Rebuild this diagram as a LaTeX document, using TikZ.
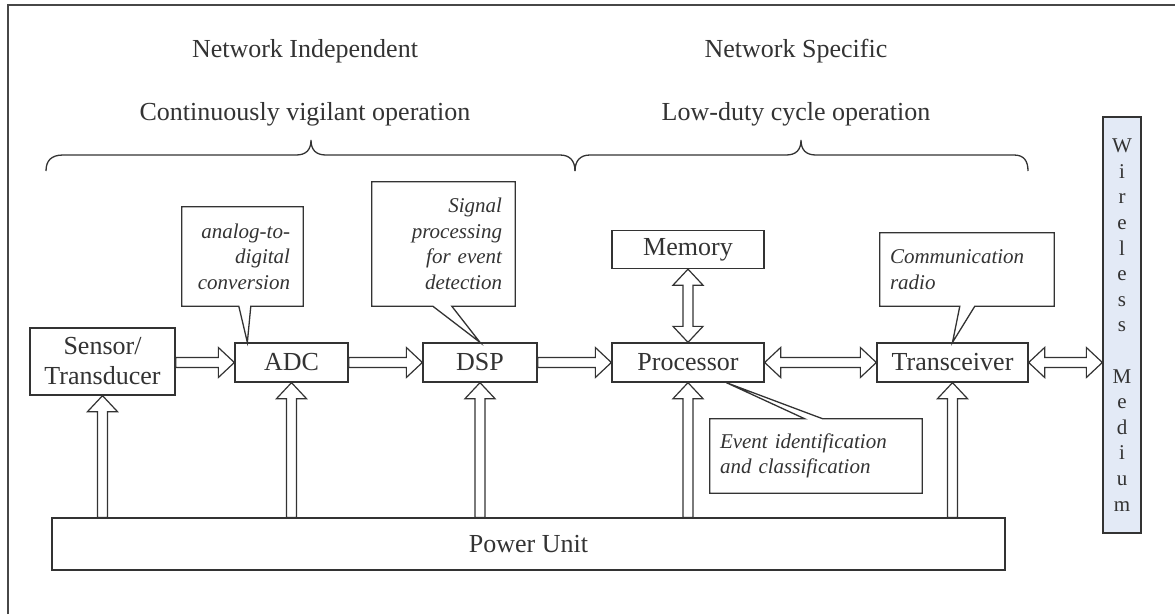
\documentclass[tikz,border=0pt]{standalone}
\usepackage{fontspec}
\setmainfont{Liberation Serif}
\usetikzlibrary{calc}
\definecolor{ln}{HTML}{333333}
\definecolor{wm}{HTML}{E3EAF6}
% block arrows between nodes
\newcommand\RArr[2]{\draw[blk] let \p1=(#1.east),\p2=(#2.west) in
  (\x1,\y2+5pt) -- (\x2-16pt,\y2+5pt) -- (\x2-16pt,\y2+15pt) -- (\x2,\y2)
  -- (\x2-16pt,\y2-15pt) -- (\x2-16pt,\y2-5pt) -- (\x1,\y2-5pt) -- cycle;}
\newcommand\DArr[2]{\draw[blk] let \p1=(#1.east),\p2=(#2.west) in
  (\x1,\y1) -- (\x1+16pt,\y1+15pt) -- (\x1+16pt,\y1+5pt) -- (\x2-16pt,\y1+5pt)
  -- (\x2-16pt,\y1+15pt) -- (\x2,\y1) -- (\x2-16pt,\y1-15pt) -- (\x2-16pt,\y1-5pt)
  -- (\x1+16pt,\y1-5pt) -- (\x1+16pt,\y1-15pt) -- cycle;}
\newcommand\UArr[2]{\draw[blk] let \p1=(#1.north),\p2=(#2.south) in
  (\x2-5pt,\y1) -- (\x2-5pt,\y2-16pt) -- (\x2-15pt,\y2-16pt) -- (\x2,\y2)
  -- (\x2+15pt,\y2-16pt) -- (\x2+5pt,\y2-16pt) -- (\x2+5pt,\y1) -- cycle;}
\newcommand\VDArr[2]{\draw[blk] let \p1=(#1.north),\p2=(#2.south) in
  (\x1,\y1) -- (\x1-15pt,\y1+16pt) -- (\x1-5pt,\y1+16pt) -- (\x1-5pt,\y2-16pt)
  -- (\x1-15pt,\y2-16pt) -- (\x1,\y2) -- (\x1+15pt,\y2-16pt) -- (\x1+5pt,\y2-16pt)
  -- (\x1+5pt,\y1+16pt) -- (\x1+15pt,\y1+16pt) -- cycle;}
\begin{document}
\begin{tikzpicture}[x=1pt,y=-1pt,
  big/.style={font=\fontsize{26}{30}\selectfont, text=ln},
  box/.style={big, draw=ln, line width=1.3pt, inner sep=0pt, align=center},
  note/.style={font=\fontsize{21}{25.5}\selectfont\itshape, text=ln, inner ysep=0pt},
  co/.style={draw=ln, line width=1.3pt, line join=miter},
  blk/.style={draw=ln, line width=1.2pt, fill=white, line join=miter},
  brc/.style={draw=ln, line width=1.3pt}]
\useasboundingbox (0,0) rectangle (1175,614);
\fill[white] (0,0) rectangle (1175,614);
% frame
\draw[draw=ln!90, line width=1.3pt] (8,614) -- (8,5) -- (1175,5);

% headings
\node[big, anchor=base] (ni) at (305,57) {Network Independent};
\node[big, anchor=base] (cv) at (305,120) {Continuously vigilant operation};
\node[big, anchor=base] (ns) at (796,57) {Network Specific};
\node[big, anchor=base] (ld) at (796,120) {Low-duty cycle operation};

% braces
\draw[brc] (46,171) .. controls (46,161) and (51,155) .. (63,155) -- (296,155)
  .. controls (306,155) and (311,150) .. (311,140)
  .. controls (311,150) and (316,155) .. (326,155) -- (560,155)
  .. controls (570,155) and (575,161) .. (575,171);
\draw[brc] (575,171) .. controls (575,161) and (580,155) .. (590,155) -- (786,155)
  .. controls (796,155) and (801,150) .. (801,140)
  .. controls (801,150) and (806,155) .. (816,155) -- (1014,155)
  .. controls (1024,155) and (1028,161) .. (1028,171);

% main blocks
\node[box, minimum width=145, minimum height=67] (sen) at (102.5,361.5) {Sensor/\\Transducer};
\node[box, minimum width=113, minimum height=39] (adc) at (291.5,362.5) {ADC};
\node[box, minimum width=114, minimum height=39] (dsp) at (480,362.5) {DSP};
\node[box, minimum width=152, minimum height=38] (mem) at (688,249.5) {Memory};
\node[box, minimum width=152, minimum height=39] (proc) at (688,362.5) {Processor};
\node[box, minimum width=151, minimum height=39] (trx) at (952.5,362.5) {Transceiver};
\node[box, minimum width=953, minimum height=52] (pow) at (528.5,544) {Power Unit};
\node[draw=ln, line width=1.3pt, fill=wm, minimum width=38, minimum height=416,
  inner sep=0pt, text=ln, align=center, font=\fontsize{21}{25.6}\selectfont] (wl) at (1122,325)
  {W\\i\\r\\e\\l\\e\\s\\s\\[25.6pt]M\\e\\d\\i\\u\\m};

% callouts
\node[note, minimum width=121, minimum height=99, inner xsep=13pt, text width=95, align=right]
  (cadc) at (242.5,256.5) {analog-to-\\digital\\conversion};
\draw[co] (cadc.north west) -- (cadc.north east) -- (cadc.south east)
  -- ($(cadc.south west)+(69,0)$) -- ($(adc.north west)+(13,0)$)
  -- ($(cadc.south west)+(57,0)$) -- (cadc.south west) -- cycle;

\node[note, minimum width=143, minimum height=124, inner xsep=13pt, text width=117, align=right]
  (cdsp) at (443.5,244) {Signal\\processing\\for event\\detection};
\draw[co] (cdsp.north west) -- (cdsp.north east) -- (cdsp.south east)
  -- ($(cdsp.south west)+(80,0)$) -- (dsp.north)
  -- ($(cdsp.south west)+(61,0)$) -- (cdsp.south west) -- cycle;

\node[note, minimum width=174, minimum height=73, inner xsep=10pt, text width=154, align=left]
  (ctrx) at (967,269.5) {Communication\\radio};
\draw[co] (ctrx.north west) -- (ctrx.north east) -- (ctrx.south east)
  -- ($(ctrx.south west)+(95,0)$) -- (trx.north)
  -- ($(ctrx.south west)+(80,0)$) -- (ctrx.south west) -- cycle;

\node[note, minimum width=212, minimum height=74, inner xsep=10pt, text width=192, align=left]
  (cev) at (816,456) {Event identification\\and classification};
\draw[co] (cev.south west) -- (cev.north west) -- ($(cev.north west)+(95,0)$)
  -- ($(proc.south west)+(115,0)$) -- ($(cev.north west)+(113,0)$)
  -- (cev.north east) -- (cev.south east) -- cycle;

% arrows
\RArr{sen}{adc}
\RArr{adc}{dsp}
\RArr{dsp}{proc}
\DArr{proc}{trx}
\DArr{trx}{wl}
\VDArr{proc}{mem}
\UArr{pow}{sen}
\UArr{pow}{adc}
\UArr{pow}{dsp}
\UArr{pow}{proc}
\UArr{pow}{trx}
\end{tikzpicture}
\end{document}
